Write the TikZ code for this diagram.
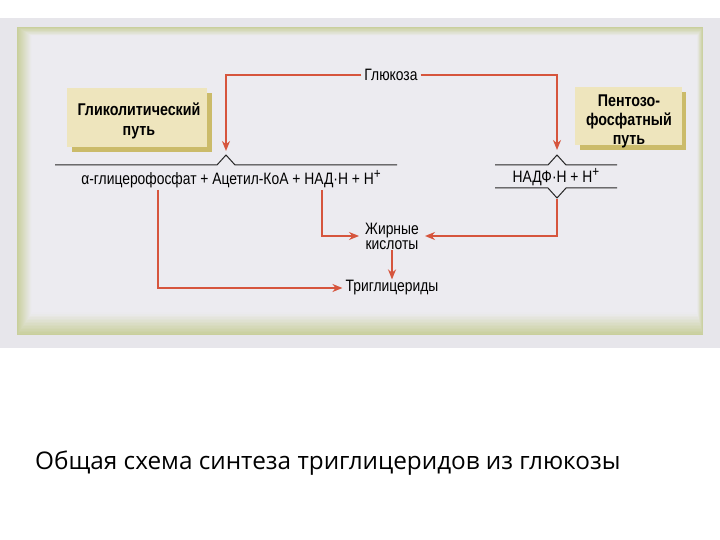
\documentclass[tikz,border=0pt]{standalone}
\usepackage{fontspec}
\setmainfont{Liberation Sans}
\newfontfamily\narrowfont[FakeStretch=0.84]{Liberation Sans}
\newfontfamily\capfont{Open Sans}
\usetikzlibrary{arrows.meta}
\definecolor{arr}{HTML}{D6553D}
\definecolor{boxfill}{HTML}{EEE5BD}
\definecolor{boxshadow}{HTML}{CBBB6A}
\definecolor{pagebg}{HTML}{E7E6EB}
\definecolor{panelbg}{HTML}{ECEBF0}
\definecolor{frame}{HTML}{C9CF9C}
\newcommand{\supplus}{\raisebox{0.36em}{\fontsize{14}{14}\selectfont +}}
\tikzset{
  redarrow/.style={draw=arr, line width=2pt, -{Stealth[length=10pt,width=8pt]}},
  blackline/.style={draw=black!85, line width=1pt},
  pathbox/.style={fill=boxfill},
  boxtext/.style={font=\narrowfont\bfseries\fontsize{17}{19}\selectfont, align=center, inner sep=0pt},
  lbl/.style={font=\narrowfont\fontsize{16.5}{15}\selectfont, inner sep=1pt, align=center},
}
\begin{document}
\begin{tikzpicture}[x=1pt,y=-1pt]
\useasboundingbox (0,0) rectangle (720,540);
\fill[white] (0,0) rectangle (720,540);
% scanned page background
\fill[pagebg] (0,18) rectangle (720,348);
\foreach \i in {0,...,14}{
  \pgfmathsetmacro{\mix}{100-\i*7}
  \fill[frame!\mix!panelbg] (17+\i,27+\i*0.6) rectangle (703-\i*0.4,335-\i*1.5);
}
\fill[panelbg] (32,36) rectangle (697,312);

% pathway boxes
\fill[boxshadow] (72,93) rectangle (212,152);
\fill[pathbox] (67,88) rectangle (207,147);
\node[boxtext] (gly) at (139,121) {Гликолитический\\[1pt]путь};
\fill[boxshadow] (580,92) rectangle (686,150);
\fill[pathbox] (575,87) rectangle (682,145);
\node[boxtext] (ppp) at (629,121) {Пентозо-\\фосфатный\\путь};

% glucose
\node[lbl, inner xsep=3pt] (gluc) at (391,75) {Глюкоза};
\coordinate (glyTop) at (226,151);
\coordinate (pppTop) at (557,150);
\draw[redarrow] (gluc.west) -| (glyTop);
\draw[redarrow] (gluc.east) -| (pppTop);

% left equation line with caret
\coordinate (lineL) at (55,165);
\coordinate (lineLend) at (397,165);
\draw[blackline] (lineL) -- (217,165) -- (226,155) -- (235,165) -- (lineLend);
\node[lbl] (eq) at (231,179) {α-глицерофосфат + Ацетил-КоА + НАД·Н + Н\supplus};

% right NADPH lines
\draw[blackline] (495,165) -- (548,165) -- (557,155) -- (566,165) -- (617,165);
\draw[blackline] (495,188) -- (548,188) -- (557,198) -- (566,188) -- (617,188);
\node[lbl] (nadph) at (556,177) {НАДФ·Н + Н\supplus};

% products
\node[lbl, inner xsep=6pt] (fa) at (392,236) {Жирные\\кислоты};
\node[lbl, inner xsep=3pt] (tg) at (392,288) {Триглицериды};

\coordinate (alphaB) at (158,190);
\coordinate (nadhB) at (322,190);
\coordinate (nadphB) at (557,199);
\draw[redarrow] (alphaB) |- (tg.west);
\draw[redarrow] (nadhB) |- (fa.west);
\draw[redarrow] (nadphB) |- (fa.east);
\draw[redarrow] (fa.south) -- (tg.north);

% caption
\node[font=\capfont\fontsize{24.3}{28}\selectfont, anchor=west, inner sep=0pt] (cap) at (35,463) {Общая схема синтеза триглицеридов из глюкозы};
\end{tikzpicture}
\end{document}
